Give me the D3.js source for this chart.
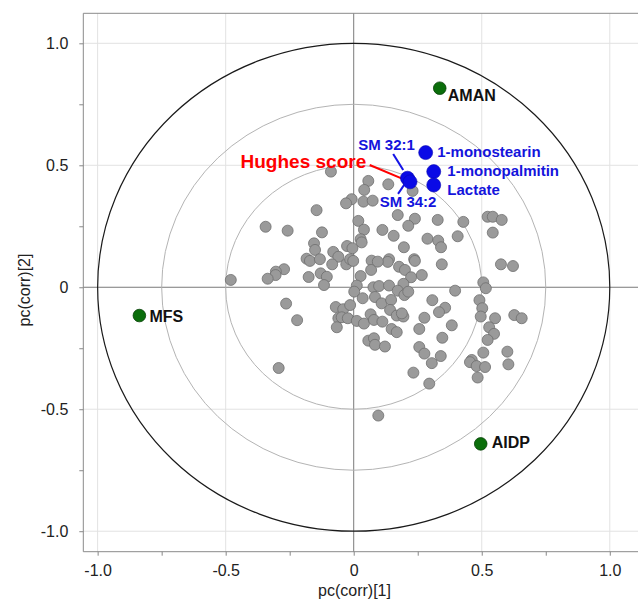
<!DOCTYPE html>
<html>
<head>
<meta charset="utf-8">
<script src="https://cdn.jsdelivr.net/npm/d3@7"></script>
<style>
  body { margin: 0; background: #fff; }
  svg { display: block; font-family: Arial, "Liberation Sans", sans-serif; }
  .tick text { font-size: 16px; fill: #222; }
  .tick line { stroke: #888; }
  .lbl { font-weight: bold; }
</style>
</head>
<body>
<div class="chart-box"></div>
<script>
// loadings of the variables (grey dots)
var varX = [-0.089, 0.057, 0.041, -0.008, -0.030, 0.038, 0.074, -0.145, -0.344, -0.258,
  -0.124, 0.018, 0.040, 0.027, 0.031, -0.155, -0.151, -0.080, -0.060, -0.026,
  -0.005, -0.184, -0.171, -0.132, -0.084, -0.029, -0.014, -0.002, 0.070, 0.068,
  -0.272, -0.304, -0.305, -0.336, -0.480, -0.176, -0.129, -0.105, -0.116, 0.027,
  0.012, 0.077,
  0.135, 0.230, 0.172, 0.239, 0.213, 0.328, 0.428, 0.523, 0.543, 0.578,
  0.543, 0.112, 0.156, 0.288, 0.330, 0.341, 0.406, 0.196, 0.138, 0.133,
  0.236, 0.239, 0.344, 0.575, 0.622, 0.094, 0.177, 0.200, 0.266, 0.224,
  0.194, 0.099, 0.138, 0.506, 0.516, 0.396, 0.172,
  -0.264, -0.221, -0.293, -0.070, -0.041, -0.014, 0.002, 0.035, 0.083, -0.060,
  -0.047, -0.023, -0.066, 0.012, 0.040, 0.066, 0.079, 0.057, 0.079, 0.083,
  0.096,
  0.307, 0.357, 0.333, 0.276, 0.256, 0.383, 0.346, 0.491, 0.502, 0.496,
  0.552, 0.627, 0.656, 0.529, 0.548, 0.523, 0.256, 0.276, 0.340, 0.305,
  0.506, 0.461, 0.454, 0.480, 0.513, 0.600, 0.604, 0.484, 0.233, 0.295,
  0.109, 0.146, 0.198, 0.213, 0.142, 0.168, 0.194, 0.188, 0.112, 0.148,
  0.168, 0.122];
var varY = [0.474, 0.436, 0.399, 0.361, 0.344, 0.351, 0.355, 0.316, 0.248, 0.232,
  0.225, 0.272, 0.236, 0.197, 0.184, 0.180, 0.153, 0.145, 0.125, 0.169,
  0.160, 0.117, 0.108, 0.115, 0.094, 0.094, 0.115, 0.108, 0.109, 0.071,
  0.074, 0.064, 0.050, 0.035, 0.030, 0.042, 0.057, 0.043, 0.009, 0.046,
  0.007, 0.000,
  0.422, 0.395, 0.296, 0.281, 0.252, 0.276, 0.268, 0.289, 0.289, 0.276,
  0.224, 0.235, 0.211, 0.199, 0.191, 0.164, 0.209, 0.164, 0.115, 0.104,
  0.115, 0.108, 0.094, 0.094, 0.087, 0.105, 0.084, 0.071, 0.050, 0.041,
  0.014, 0.005, 0.007, 0.020, -0.004, -0.014, -0.014,
  -0.067, -0.135, -0.331, -0.081, -0.090, -0.073, -0.018, -0.045, -0.040, -0.127,
  -0.123, -0.127, -0.164, -0.138, -0.149, -0.111, -0.134, -0.219, -0.209, -0.236,
  -0.526,
  -0.053, -0.084, -0.102, -0.125, -0.171, -0.156, -0.207, -0.053, -0.086, -0.120,
  -0.127, -0.114, -0.127, -0.164, -0.191, -0.216, -0.245, -0.272, -0.282, -0.311,
  -0.268, -0.298, -0.307, -0.323, -0.327, -0.264, -0.316, -0.370, -0.350, -0.395,
  -0.066, -0.052, -0.032, -0.018, -0.093, -0.116, -0.120, -0.107, -0.141, -0.171,
  -0.184, -0.243];

// disease subgroups (green dots)
var groupNames = ['AMAN', 'MFS', 'AIDP'];
var groupX = [0.336, -0.837, 0.496];
var groupY = [0.816, -0.116, -0.642];

// highlighted metabolites (blue dots)
var markerNames = ['1-monostearin', '1-monopalmitin', 'Lactate', 'SM 32:1', 'SM 34:2'];
var markerX = [0.281, 0.3125, 0.3125, 0.210, 0.220];
var markerY = [0.552, 0.474, 0.419, 0.447, 0.432];

var hughesName = 'Hughes score';
var hughesX = 0.205;
var hughesY = 0.438;

var circleRadii = [1, 0.75, 0.5];
var tickVals = [-1, -0.5, 0, 0.5, 1];
var tickLabels = ['-1.0', '-0.5', '0', '0.5', '1.0'];
var minorVals = [-0.75, -0.25, 0.25, 0.75];

var width = 638,
    height = 603,
    plot = {left: 83.3, top: 13.3, right: 640, bottom: 551.7};

// label offsets in pixels from the dot
var label_offsets = {
  'AMAN': [8, 13, 'start'],
  'MFS': [10, 6, 'start'],
  'AIDP': [11, 4.5, 'start'],
  '1-monostearin': [11.6, 4, 'start'],
  '1-monopalmitin': [13.6, 4.3, 'start'],
  'Lactate': [13.6, 10, 'start'],
  'SM 32:1': [7.4, -28.3, 'end'],
  'SM 34:2': [-30.3, 24.7, 'start'],
  'Hughes score': [-40, -12.4, 'end']
};
// leader lines: from point offset to point offset
var leader_offsets = {
  'SM 32:1': [-14.3, -24.3, -4.3, -8.3],
  'SM 34:2': [-12, 12, -4.7, 1.3],
  'Hughes score': [-36.5, -15.4, 0, 0]
};

var x = d3.scaleLinear().domain([-1.056, 1.118]).range([plot.left, plot.right]);
var y = d3.scaleLinear().domain([-1.084, 1.123]).range([plot.bottom, plot.top]);

var svg = d3.select('.chart-box').append('svg')
    .attr('width', width)
    .attr('height', height);

// grid
var grid = svg.append('g');
grid.selectAll('line.gx')
  .data(tickVals.filter(function(d) { return d != 0; }))
  .enter().append('line')
  .attr('x1', function(d) { return x(d); })
  .attr('x2', function(d) { return x(d); })
  .attr('y1', plot.top)
  .attr('y2', plot.bottom)
  .attr('stroke', '#e2e2e2');
grid.selectAll('line.gy')
  .data(tickVals.filter(function(d) { return d != 0; }))
  .enter().append('line')
  .attr('y1', function(d) { return y(d); })
  .attr('y2', function(d) { return y(d); })
  .attr('x1', plot.left)
  .attr('x2', plot.right)
  .attr('stroke', '#e2e2e2');

// zero lines
svg.append('line')
  .attr('x1', x(0)).attr('x2', x(0))
  .attr('y1', plot.top).attr('y2', plot.bottom)
  .attr('stroke', '#7a7a7a');
svg.append('line')
  .attr('y1', y(0)).attr('y2', y(0))
  .attr('x1', plot.left).attr('x2', plot.right)
  .attr('stroke', '#7a7a7a');

// correlation circles
svg.selectAll('ellipse.ring')
  .data(circleRadii)
  .enter().append('ellipse')
  .attr('class', 'ring')
  .attr('cx', x(0))
  .attr('cy', y(0))
  .attr('rx', function(d) { return x(d) - x(0); })
  .attr('ry', function(d) { return y(0) - y(d); })
  .attr('fill', 'none')
  .attr('stroke', function(d) { return d == 1 ? '#1a1a1a' : '#b4b4b4'; })
  .attr('stroke-width', function(d) { return d == 1 ? 1.2 : 1; });

// frame
svg.append('path')
  .attr('d', 'M' + plot.right + ',' + plot.top + 'H' + plot.left + 'V' + plot.bottom + 'H' + plot.right)
  .attr('fill', 'none')
  .attr('stroke', '#8a8a8a');

// axes
var xAxis = svg.append('g')
  .attr('transform', 'translate(0,' + plot.bottom + ')')
  .call(d3.axisBottom(x).tickValues(tickVals).tickSize(4).tickPadding(9)
    .tickFormat(function(d, i) { return tickLabels[i]; }));
xAxis.select('.domain').remove();
var xMinor = svg.append('g')
  .attr('transform', 'translate(0,' + plot.bottom + ')')
  .call(d3.axisBottom(x).tickValues(minorVals).tickSize(4).tickFormat(''));
xMinor.select('.domain').remove();

var yAxis = svg.append('g')
  .attr('transform', 'translate(' + plot.left + ',0)')
  .call(d3.axisLeft(y).tickValues(tickVals).tickSize(4).tickPadding(11)
    .tickFormat(function(d, i) { return tickLabels[i]; }));
yAxis.select('.domain').remove();
var yMinor = svg.append('g')
  .attr('transform', 'translate(' + plot.left + ',0)')
  .call(d3.axisLeft(y).tickValues(minorVals).tickSize(4).tickFormat(''));
yMinor.select('.domain').remove();
svg.selectAll('.tick text').attr('font-family', null).attr('font-size', null);

svg.append('text')
  .attr('x', 354.5)
  .attr('y', 596)
  .attr('text-anchor', 'middle')
  .attr('font-size', 16)
  .attr('fill', '#222')
  .text('pc(corr)[1]');
svg.append('text')
  .attr('transform', 'translate(30,290) rotate(-90)')
  .attr('text-anchor', 'middle')
  .attr('font-size', 16)
  .attr('fill', '#222')
  .text('pc(corr)[2]');

// grey variable dots
svg.append('g').selectAll('circle')
  .data(d3.range(varX.length))
  .enter().append('circle')
  .attr('cx', function(i) { return x(varX[i]); })
  .attr('cy', function(i) { return y(varY[i]); })
  .attr('r', 5.5)
  .attr('fill', '#9a9a9a')
  .attr('stroke', '#6e6e6e')
  .attr('stroke-width', 0.8);

// Hughes score: label and leader line
var hughes = {name: hughesName, px: x(hughesX), py: y(hughesY)};
var hl = leader_offsets[hughesName], ht = label_offsets[hughesName];
svg.append('line')
  .attr('x1', hughes.px + hl[0]).attr('y1', hughes.py + hl[1])
  .attr('x2', hughes.px + hl[2]).attr('y2', hughes.py + hl[3])
  .attr('stroke', '#f00')
  .attr('stroke-width', 2);
svg.append('circle')
  .attr('cx', hughes.px).attr('cy', hughes.py).attr('r', 4)
  .attr('fill', '#f00');
svg.append('text')
  .attr('class', 'lbl')
  .attr('x', hughes.px + ht[0])
  .attr('y', hughes.py + ht[1])
  .attr('text-anchor', ht[2])
  .attr('font-size', 19)
  .attr('fill', '#f00')
  .text(hughesName);

// blue metabolite dots
var markers = d3.range(markerNames.length).map(function(i) {
  return {name: markerNames[i], px: x(markerX[i]), py: y(markerY[i])};
});
svg.append('g').selectAll('line')
  .data(markers.filter(function(d) { return leader_offsets[d.name]; }))
  .enter().append('line')
  .attr('x1', function(d) { return d.px + leader_offsets[d.name][0]; })
  .attr('y1', function(d) { return d.py + leader_offsets[d.name][1]; })
  .attr('x2', function(d) { return d.px + leader_offsets[d.name][2]; })
  .attr('y2', function(d) { return d.py + leader_offsets[d.name][3]; })
  .attr('stroke', '#1414e6')
  .attr('stroke-width', 2);
svg.append('g').selectAll('circle')
  .data(markers)
  .enter().append('circle')
  .attr('cx', function(d) { return d.px; })
  .attr('cy', function(d) { return d.py; })
  .attr('r', 7)
  .attr('fill', '#0a0ae6')
  .attr('stroke', '#0808b0')
  .attr('stroke-width', 0.6);
svg.append('g').selectAll('text')
  .data(markers)
  .enter().append('text')
  .attr('class', 'lbl')
  .attr('x', function(d) { return d.px + label_offsets[d.name][0]; })
  .attr('y', function(d) { return d.py + label_offsets[d.name][1]; })
  .attr('text-anchor', function(d) { return label_offsets[d.name][2]; })
  .attr('font-size', 15)
  .attr('fill', '#1414dc')
  .text(function(d) { return d.name; });

// green group dots
var groups = d3.range(groupNames.length).map(function(i) {
  return {name: groupNames[i], px: x(groupX[i]), py: y(groupY[i])};
});
svg.append('g').selectAll('circle')
  .data(groups)
  .enter().append('circle')
  .attr('cx', function(d) { return d.px; })
  .attr('cy', function(d) { return d.py; })
  .attr('r', 6.3)
  .attr('fill', '#0b6e0b')
  .attr('stroke', '#064006')
  .attr('stroke-width', 0.8);
svg.append('g').selectAll('text')
  .data(groups)
  .enter().append('text')
  .attr('class', 'lbl')
  .attr('x', function(d) { return d.px + label_offsets[d.name][0]; })
  .attr('y', function(d) { return d.py + label_offsets[d.name][1]; })
  .attr('text-anchor', function(d) { return label_offsets[d.name][2]; })
  .attr('font-size', 16)
  .attr('fill', '#111')
  .text(function(d) { return d.name; });
</script>
</body>
</html>
